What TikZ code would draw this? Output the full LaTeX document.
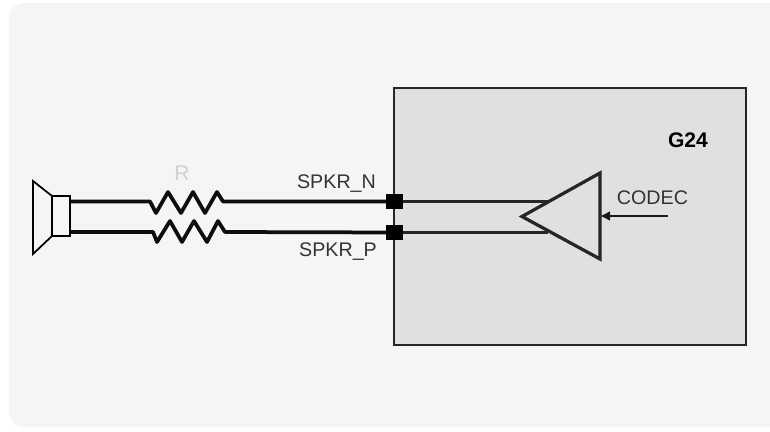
\documentclass[tikz,border=0pt]{standalone}
\usepackage{fontspec}
\setmainfont{Liberation Sans}
\usepackage{tikz}
\usetikzlibrary{arrows.meta}
\tikzset{wire/.style={line width=0.075cm, draw=black!95}}
\tikzset{thinwire/.style={line width=0.05cm, draw=black!85}}
\tikzset{pad/.style={draw=none, fill=black, minimum width=0.33cm, minimum height=0.3cm, inner sep=0pt}}
\tikzset{sig/.style={font=\fontsize{11.2}{13}\selectfont, text=black!80, inner sep=0pt}}

\begin{document}
\begin{tikzpicture}
        \useasboundingbox (0,0) rectangle (15.4,8.62);
        \fill [black!4, rounded corners=0.3cm] (0.18,0.08) rectangle (16,8.56);
        \draw [line width=0.035cm, draw=black!85, fill=black!12] (7.88,1.72) rectangle (14.92,6.86);
        \node [font=\fontsize{12}{14}\selectfont\bfseries, inner sep=0pt] (chip) at (13.76,5.82) {G24};
        % speaker
        \draw [line width=0.035cm, fill=black!4] (0.66,5) -- (1.04,4.7) -- (1.04,3.9) -- (0.66,3.54) -- cycle;
        \node [draw, line width=0.035cm, fill=black!4, minimum width=0.36cm, minimum height=0.8cm, inner sep=0pt] (spk) at (1.22,4.3) {};
        \coordinate (spkN) at (spk.east |- 0,4.59);
        \coordinate (spkP) at (spk.east |- 0,3.98);
        % pads
        \node [pad] (padN) at (7.89,4.59) {};
        \node [pad] (padP) at (7.89,3.97) {};
        % resistors
        \node [font=\fontsize{12}{14}\selectfont, text=black!18, inner sep=0pt] (rlabel) at (3.64,5.16) {R};
        \draw [wire, line join=round] (spkN) -- (3,4.59) -- (3.12,4.36) -- (3.36,4.78) -- (3.62,4.36) -- (3.86,4.78) -- (4.1,4.36) -- (4.34,4.78) -- (4.46,4.59) -- (padN);
        \draw [wire, line join=round] (spkP) -- (3.06,3.98) -- (3.14,3.78) -- (3.4,4.2) -- (3.64,3.78) -- (3.88,4.2) -- (4.14,3.78) -- (4.36,4.2) -- (4.5,3.98) -- (padP);
        \node [sig] (spkrn) at (6.73,4.95) {SPKR\_N};
        \node [sig] (spkrp) at (6.76,3.59) {SPKR\_P};
        % amplifier
        \coordinate (ampA) at (10.44,4.29);
        \coordinate (ampT) at (12,5.16);
        \coordinate (ampB) at (12,3.44);
        \coordinate (ampC) at (12,4.3);
        \coordinate (ampN) at (10.96,4.59);
        \coordinate (ampP) at (10.96,3.97);
        \draw [thinwire] (padN) -- (ampN);
        \draw [thinwire] (padP) -- (ampP);
        \draw [line width=0.065cm, draw=black!85, line join=miter] (ampA) -- (ampT) -- (ampB) -- cycle;
        \node [sig] (codec) at (13.05,4.66) {CODEC};
        \coordinate (codecin) at (13.36,4.3);
        \draw [-{Latex[length=0.2cm,width=0.2cm]}, line width=0.055cm, draw=black!90] (codecin) -- (ampC);
    \end{tikzpicture}
\end{document}
